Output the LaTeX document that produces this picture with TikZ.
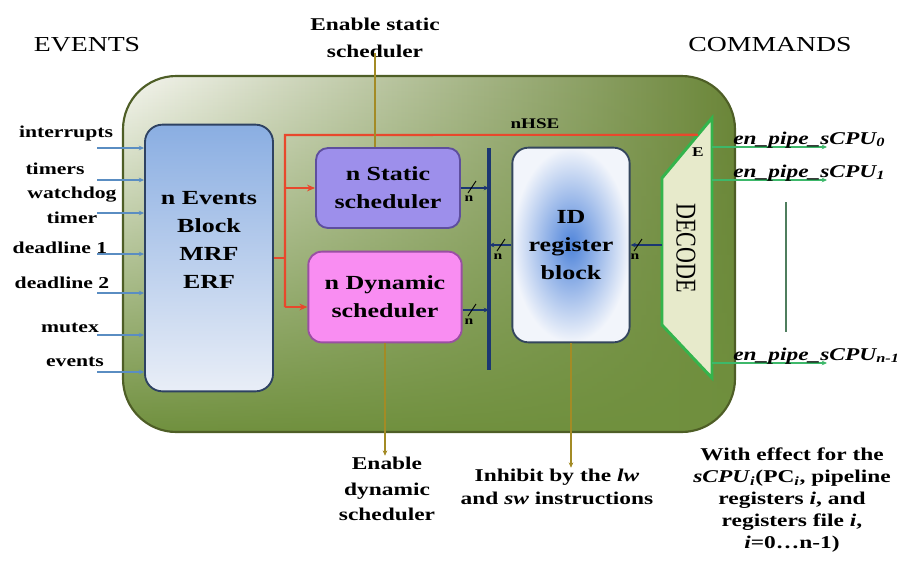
\documentclass[tikz,border=0pt]{standalone}
\usepackage{fontspec}
\setmainfont{Liberation Serif}[FakeStretch=1.3]
\newfontfamily\upright{Liberation Serif}
\usetikzlibrary{positioning,calc,fadings,arrows.meta}

\definecolor{frameL}{HTML}{F6F6F0}
\definecolor{frameR}{HTML}{6A8538}
\definecolor{frameB}{HTML}{70903E}
\definecolor{frameEdge}{HTML}{4E5E26}
\definecolor{evTop}{HTML}{8AAEE2}
\definecolor{evBot}{HTML}{E9EEF7}
\definecolor{evEdge}{HTML}{2E4262}
\definecolor{stFill}{HTML}{9D8FEB}
\definecolor{stEdge}{HTML}{5E4E9E}
\definecolor{dyFill}{HTML}{F98DF2}
\definecolor{dyEdge}{HTML}{9A4FA3}
\definecolor{idIn}{HTML}{4F84DA}
\definecolor{idOut}{HTML}{F2F5FB}
\definecolor{idEdge}{HTML}{34465E}
\definecolor{busBlue}{HTML}{1B3672}
\definecolor{hseRed}{HTML}{E8482C}
\definecolor{enGold}{HTML}{A38B25}
\definecolor{inBlue}{HTML}{5A8DC2}
\definecolor{outGreen}{HTML}{3DB86A}
\definecolor{decFill}{HTML}{E7EACB}
\definecolor{decEdge}{HTML}{34B44C}
\definecolor{gapGreen}{HTML}{4F7E5E}

\tikzfading[name=lowfade, top color=transparent!100, middle color=transparent!60, bottom color=transparent!0]

\tikzset{
  blk/.style={draw, line width=1.4pt, align=center, font=\bfseries\fontsize{15}{21}\selectfont},
  lbl/.style={align=center, inner sep=1pt, font=\bfseries\fontsize{12.5}{19}\selectfont},
  toptxt/.style={font=\fontsize{16}{18}\selectfont},
  cpulbl/.style={inner sep=0pt, font=\bfseries\itshape\fontsize{13.5}{15}\selectfont},
  smallarr/.style={-{Stealth[length=4pt,width=3.5pt]}},
  redarr/.style={-{Stealth[length=6pt,width=5pt]}},
  inline/.style={inBlue, line width=1.1pt, smallarr},
  outline/.style={outGreen, line width=1.7pt, smallarr},
  enline/.style={enGold, line width=1.4pt},
  hse/.style={hseRed, line width=1.6pt},
  buslink/.style={busBlue, line width=0.9pt, smallarr},
  nslash/.pic={
    \draw[line width=0.7pt] (-4,6) -- (4,-6);
    \node[inner sep=0pt, font=\bfseries\fontsize{9}{9}\selectfont] (-n) at (-3,12) {n};
  },
}

\begin{document}
\begin{tikzpicture}[x=0.75pt, y=-0.75pt]
\useasboundingbox (0,0) rectangle (897,565);

% frame
\coordinate (fnw) at (123,76);
\coordinate (fse) at (735,432);
\shade[left color=frameL, right color=frameR, rounded corners=40pt] (fnw) rectangle (fse);
\fill[frameB, path fading=lowfade, rounded corners=40pt] (fnw) rectangle (fse);
\draw[frameEdge, line width=1.6pt, rounded corners=40pt] (fnw) rectangle (fse);

\node[toptxt] (evhead) at (87,45) {EVENTS};
\node[toptxt] (cmdhead) at (770,45) {COMMANDS};

% blocks
\node[blk, draw=evEdge, top color=evTop, bottom color=evBot, rounded corners=13pt,
  minimum width=96pt, minimum height=200pt] (ev) at (209,258) {};
\node[blk, draw=none, fill=none] (evtxt) at (209,240) {n Events\\Block\\MRF\\ERF};
\node[blk, draw=stEdge, fill=stFill, rounded corners=9pt,
  minimum width=108pt, minimum height=60pt] (st) at (388,188) {n Static\\scheduler};
\node[blk, draw=dyEdge, fill=dyFill, rounded corners=10pt,
  minimum width=115pt, minimum height=68pt] (dy) at (385,297) {n Dynamic\\scheduler};
\node[blk, draw=idEdge, inner color=idIn, outer color=idOut, rounded corners=12pt,
  minimum width=88pt, minimum height=146pt] (id) at (571,245) {ID\\register\\block};

% decoder
\coordinate (dtr) at (712,118);
\coordinate (dtl) at (662,178);
\coordinate (dbl) at (662,325);
\coordinate (dbr) at (712,378);
\draw[decEdge, fill=decFill, line width=2.2pt] (dtr) -- (dtl) -- (dbl) -- (dbr) -- cycle;
\node[rotate=-90, yscale=1.3, font=\upright\fontsize{16.5}{18}\selectfont] (dectxt) at (686,248) {DECODE};
\node[inner sep=0pt, font=\bfseries\fontsize{10}{10}\selectfont] (elbl) at (698,152) {E};

% bus
\coordinate (bust) at (489,148);
\coordinate (busb) at (489,370);
\draw[busBlue, line width=3pt] (bust) -- (busb);
\draw[buslink] (st.east) -- (st.east -| bust);
\draw[buslink] (id.west) -- (id.west -| bust);
\draw[buslink] (dy.east |- 0,310) -- (bust |- 0,310);
\draw[buslink] (id.east -| dtl) -- (id.east);
\pic (nst) at (472,187) {nslash};
\pic (nid) at (501,245) {nslash};
\pic (ndy) at (472,310) {nslash};
\pic (ndec) at (638,245) {nslash};

% nHSE
\coordinate (rtop) at (285,135);
\coordinate (rbot) at (285,307);
\coordinate (dE) at ($(dtr)!0.28!(dtl)$);
\draw[hse] (ev.east) -- (ev.east -| rtop);
\draw[hse] (dE) -- (rtop) -- (rbot);
\draw[hse, redarr] (rtop |- st.west) -- (st.west);
\draw[hse, redarr] (rbot) -- (rbot -| dy.west);
\node[inner sep=0pt, font=\bfseries\fontsize{11}{11}\selectfont] (hselbl) at (535,124) {nHSE};

% events in
\foreach \yy/\lx/\ly/\txt [count=\i] in {148/66/133/interrupts, 180/55/169/timers,
  213/72/205/{watchdog\\timer}, 254/60/248/deadline 1, 293/62/283/deadline 2,
  335/70/328/mutex, 372/75/362/events}
{
  \node[lbl] (lab\i) at (\lx,\ly) {\txt};
  \coordinate (in\i) at (97,\yy);
  \draw[inline] (in\i) -- (in\i -| ev.west);
}

% commands out
\foreach \yy/\sub [count=\k] in {147/0, 180/1, 363/n-1}
{
  \coordinate (out\k) at (827,\yy);
  \draw[outline] (out\k -| dtr) -- (out\k);
  \node[cpulbl, anchor=base west] (cpu\k) at (733,\yy-3) {en\_pipe\_sCPU\textsubscript{\sub}};
}
\coordinate (vdt) at (786,202);
\coordinate (vdb) at (786,332);
\draw[gapGreen, line width=1.2pt] (vdt) -- (vdb);

% enables
\node[lbl, font=\bfseries\fontsize{13.5}{20}\selectfont] (ens) at (375,38) {Enable static\\scheduler};
\draw[enline] ($(ens.south)+(0,-6)$) -- (ens.south |- st.north);
\node[lbl, font=\bfseries\fontsize{13.5}{19}\selectfont] (end) at (387,489) {Enable\\dynamic\\scheduler};
\draw[enline, smallarr] (dy.south) -- (dy.south |- end.north);
\node[lbl, font=\bfseries\fontsize{13.5}{17}\selectfont] (inh) at (557,487) {Inhibit by the \textit{lw}\\and \textit{sw} instructions};
\draw[enline, smallarr] (id.south) -- (id.south |- inh.north);

\node[lbl, font=\bfseries\fontsize{13.5}{16.5}\selectfont] (eff) at (792,500)
  {With effect for the\\\textit{sCPU}\textsubscript{\textit{i}}(PC\textsubscript{\textit{i}}, pipeline\\registers \textit{i}, and\\registers file \textit{i},\\\textit{i}=0\dots n-1)};
\end{tikzpicture}
\end{document}
